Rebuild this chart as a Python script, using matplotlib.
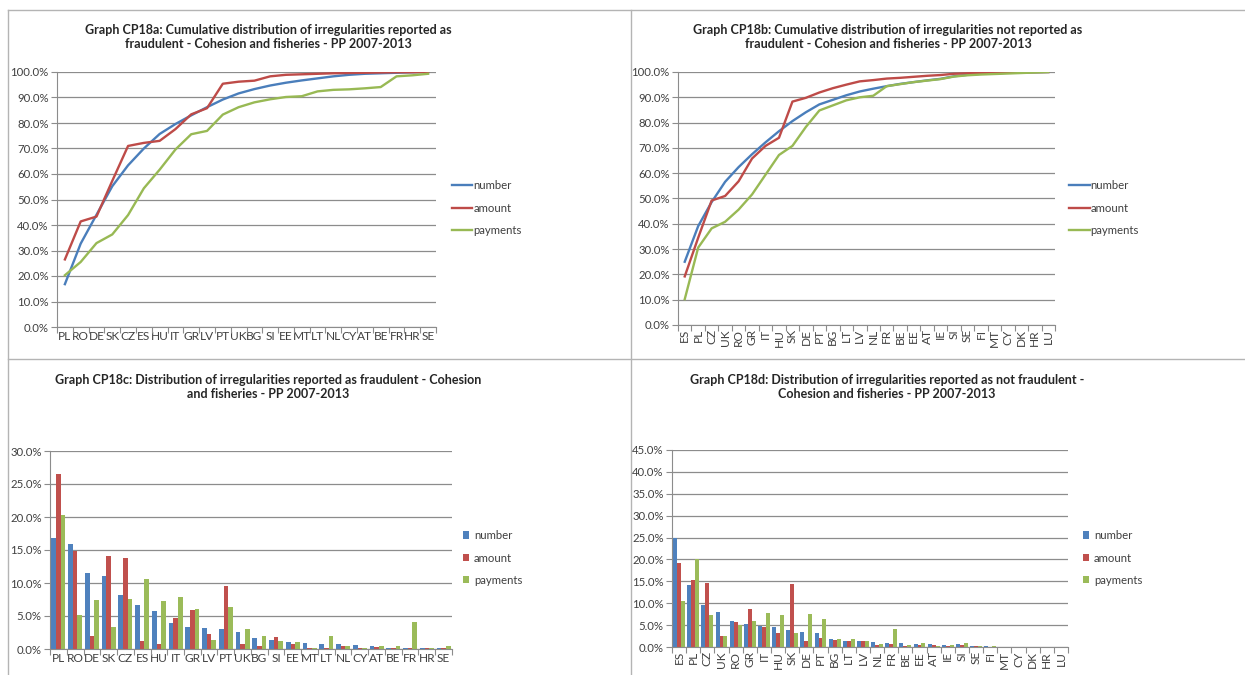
import matplotlib
matplotlib.use("Agg")
import matplotlib.pyplot as plt
from matplotlib.lines import Line2D
from matplotlib.patches import Patch
from matplotlib.ticker import FuncFormatter
import numpy as np

plt.rcParams['font.family'] = ['Lato', 'DejaVu Sans']

# ---------------- data ----------------
cats_a = ["PL", "RO", "DE", "SK", "CZ", "ES", "HU", "IT", "GR", "LV", "PT", "UK",
          "BG", "SI", "EE", "MT", "LT", "NL", "CY", "AT", "BE", "FR", "HR", "SE"]
cum_a_number = [16.8, 32.7, 44.0, 55.2, 63.4, 70.0, 75.7, 79.6, 83.0, 86.2, 89.2, 91.6,
                93.3, 94.7, 95.8, 96.7, 97.5, 98.3, 98.9, 99.3, 99.5, 99.7, 99.9, 100.0]
cum_a_amount = [26.5, 41.4, 43.3, 57.3, 71.0, 72.2, 73.0, 77.6, 83.4, 85.8, 95.4, 96.2,
                96.6, 98.3, 98.9, 99.1, 99.3, 99.5, 99.6, 99.7, 99.8, 99.9, 99.9, 100.0]
cum_a_payments = [20.3, 25.5, 32.9, 36.3, 43.9, 54.4, 61.7, 69.6, 75.6, 76.9, 83.3, 86.2,
                  88.1, 89.3, 90.2, 90.5, 92.4, 93.0, 93.2, 93.6, 94.1, 98.3, 98.7, 99.3]

cats_b = ["ES", "PL", "CZ", "UK", "RO", "GR", "IT", "HU", "SK", "DE", "PT", "BG", "LT", "LV",
          "NL", "FR", "BE", "EE", "AT", "IE", "SI", "SE", "FI", "MT", "CY", "DK", "HR", "LU"]
cum_b_number = [25.0, 39.1, 48.6, 56.6, 62.4, 67.5, 72.2, 76.6, 80.6, 84.1, 87.2, 89.0,
                90.8, 92.3, 93.4, 94.4, 95.3, 96.0, 96.7, 97.3, 98.3, 98.9, 99.3, 99.5,
                99.7, 99.8, 99.9, 100.0]
cum_b_amount = [19.2, 34.5, 49.2, 51.0, 56.8, 65.8, 70.8, 74.0, 88.3, 89.8, 91.9, 93.6,
                95.0, 96.3, 96.8, 97.4, 97.7, 98.1, 98.5, 98.8, 99.3, 99.5, 99.6, 99.7,
                99.8, 99.9, 99.95, 100.0]
cum_b_payments = [10.2, 30.6, 38.2, 40.8, 45.6, 51.6, 59.4, 67.2, 70.8, 78.3, 84.8, 86.8,
                  88.8, 90.0, 90.6, 94.4, 95.2, 96.0, 96.6, 97.2, 98.2, 98.7, 99.0, 99.2,
                  99.4, 99.6, 99.8, 100.0]

cats_c = cats_a
c_number = [16.8, 15.9, 11.5, 11.1, 8.2, 6.6, 5.7, 3.9, 3.4, 3.2, 3.0, 2.6,
            1.7, 1.4, 1.1, 0.9, 0.8, 0.8, 0.6, 0.4, 0.2, 0.2, 0.2, 0.2]
c_amount = [26.5, 14.9, 2.0, 14.1, 13.8, 1.2, 0.8, 4.7, 5.9, 2.3, 9.5, 0.8,
            0.5, 1.8, 0.8, 0.2, 0.2, 0.4, 0.2, 0.3, 0.2, 0.2, 0.1, 0.2]
c_payments = [20.3, 5.2, 7.4, 3.4, 7.6, 10.6, 7.3, 7.9, 6.1, 1.4, 6.4, 3.0,
              2.0, 1.2, 1.0, 0.2, 2.0, 0.5, 0.2, 0.4, 0.5, 4.1, 0.2, 0.5]

cats_d = cats_b
d_number = [25.0, 14.1, 9.5, 8.0, 6.0, 5.3, 4.8, 4.6, 3.8, 3.5, 3.2, 1.8, 1.4, 1.3,
            1.1, 1.0, 0.9, 0.7, 0.6, 0.4, 0.6, 0.3, 0.2, 0.1, 0.1, 0.1, 0.1, 0.05]
d_amount = [19.2, 15.3, 14.7, 2.4, 5.7, 8.7, 4.6, 3.2, 14.3, 1.4, 2.1, 1.7, 1.4, 1.3,
            0.5, 0.6, 0.3, 0.4, 0.4, 0.2, 0.5, 0.2, 0.1, 0.1, 0.1, 0.1, 0.05, 0.05]
d_payments = [10.6, 20.0, 7.4, 2.6, 5.0, 6.0, 7.8, 7.2, 3.2, 7.5, 6.3, 1.9, 1.8, 1.3,
              0.6, 4.0, 0.4, 0.9, 0.3, 0.5, 0.9, 0.3, 0.2, 0.1, 0.1, 0.1, 0.1, 0.1]

series_names = ["number", "amount", "payments"]
line_colors = ["#4A7EBB", "#BE4B48", "#98B954"]
bar_colors = ["#4F81BD", "#C0504D", "#9BBB59"]

titles = [
    "Graph CP18a: Cumulative distribution of irregularities reported as\nfraudulent - Cohesion and fisheries - PP 2007-2013",
    "Graph CP18b: Cumulative distribution of irregularities not reported as\nfraudulent - Cohesion and fisheries - PP 2007-2013",
    "Graph CP18c: Distribution of irregularities reported as fraudulent - Cohesion\nand fisheries - PP 2007-2013",
    "Graph CP18d: Distribution of irregularities reported as not fraudulent -\nCohesion and fisheries - PP 2007-2013",
]

# ---------------- layout ----------------
W, H = 1245, 675
fig = plt.figure(figsize=(W / 100, H / 100), dpi=100)
fig.patch.set_facecolor("white")

def rect(x0, y0, x1, y1):
    return [x0 / W, 1 - y1 / H, (x1 - x0) / W, (y1 - y0) / H]

TXT = "#404040"
GRID = "#8C8C8C"
AXC = "#8C8C8C"
FS = 8.2
NARROW = ['Liberation Sans Narrow', 'Lato', 'DejaVu Sans']

pct = FuncFormatter(lambda v, p: f"{v:.1f}%")

def style(ax, n, ymax, ystep, cats, rot=0):
    ax.set_xlim(-0.5, n - 0.5)
    ax.set_ylim(0, ymax)
    ax.set_yticks(np.arange(0, ymax + 0.01, ystep))
    ax.yaxis.set_major_formatter(pct)
    ax.yaxis.grid(True, color=GRID, linewidth=0.9)
    ax.set_axisbelow(True)
    for s in ["top", "right"]:
        ax.spines[s].set_visible(False)
    ax.spines["left"].set_color(AXC)
    ax.spines["bottom"].set_color(AXC)
    ax.tick_params(axis="y", colors=AXC, labelcolor=TXT, labelsize=FS, length=4, width=0.8, pad=2)
    ax.tick_params(axis="x", which="major", length=0, pad=3)
    ax.tick_params(axis="x", which="minor", colors=AXC, length=4, width=0.8, direction="out")
    ax.set_xticks(np.arange(-0.5, n, 1.0), minor=True)
    ax.set_xticks(np.arange(n))
    ax.set_xticklabels(cats, rotation=rot, fontsize=8.6, color=TXT, family=NARROW)

# panel a
axa = fig.add_axes(rect(57, 72, 436, 327))
xa = np.arange(len(cats_a))
for vals, col, nm in zip([cum_a_number, cum_a_amount, cum_a_payments], line_colors, series_names):
    axa.plot(xa, vals, color=col, lw=1.7, label=nm)
style(axa, len(cats_a), 100, 10, cats_a)

# panel b
axb = fig.add_axes(rect(678, 72, 1055, 325))
xb = np.arange(len(cats_b))
for vals, col, nm in zip([cum_b_number, cum_b_amount, cum_b_payments], line_colors, series_names):
    axb.plot(xb, vals, color=col, lw=1.7, label=nm)
style(axb, len(cats_b), 100, 10, cats_b, rot=90)

# panel c
axc = fig.add_axes(rect(50, 451, 452, 649))
xc = np.arange(len(cats_c))
bw = 0.28
for i, (vals, col, nm) in enumerate(zip([c_number, c_amount, c_payments], bar_colors, series_names)):
    axc.bar(xc + (i - 1) * bw, vals, width=bw, color=col, label=nm)
style(axc, len(cats_c), 30, 5, cats_c)

# panel d
axd = fig.add_axes(rect(672, 450, 1068, 647))
xd = np.arange(len(cats_d))
for i, (vals, col, nm) in enumerate(zip([d_number, d_amount, d_payments], bar_colors, series_names)):
    axd.bar(xd + (i - 1) * bw, vals, width=bw, color=col, label=nm)
style(axd, len(cats_d), 45, 5, cats_d, rot=90)

# titles
for (cx, cy), t in zip([(268, 37), (888, 37), (268, 387), (887, 387)], titles):
    fig.text(cx / W, 1 - cy / H, t, ha="center", va="center", fontsize=9.0,
             fontweight="bold", color="#262626", linespacing=1.3)

# legends
def add_legend(ax, x, y, kind):
    if kind == "line":
        h = [Line2D([0], [0], color=c, lw=1.7) for c in line_colors]
        hl, htp = 1.8, 0.1
    else:
        h = [Patch(facecolor=c, edgecolor="none") for c in bar_colors]
        hl, htp = 0.55, 0.4
    leg = ax.legend(h, series_names, loc="center left", bbox_to_anchor=(x / W, 1 - y / H),
                    bbox_transform=fig.transFigure, frameon=False, fontsize=FS,
                    handlelength=hl, handleheight=0.6, handletextpad=htp, labelspacing=1.0,
                    borderaxespad=0, borderpad=0)
    for t in leg.get_texts():
        t.set_color(TXT)

add_legend(axa, 452, 208, "line")
add_legend(axb, 1069, 208, "line")
add_legend(axc, 463, 558, "bar")
add_legend(axd, 1083, 558, "bar")

# panel frames
fc = "#B4B4B4"
fig.add_artist(Line2D([8 / W, 1], [1 - 10 / H, 1 - 10 / H], color=fc, lw=1.0))
fig.add_artist(Line2D([8 / W, 8 / W], [0, 1 - 10 / H], color=fc, lw=1.0))
fig.add_artist(Line2D([631 / W, 631 / W], [0, 1 - 10 / H], color=fc, lw=1.0))
fig.add_artist(Line2D([8 / W, 1], [1 - 359 / H, 1 - 359 / H], color=fc, lw=1.0))

fig.savefig("out.png", dpi=100, facecolor="white")
